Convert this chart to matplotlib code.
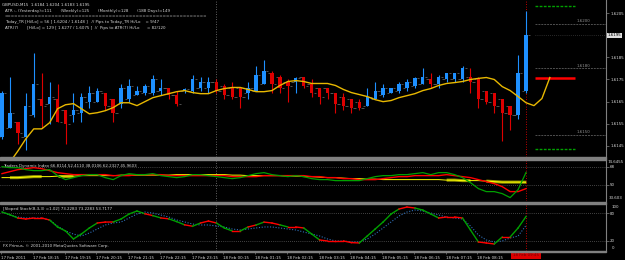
import matplotlib
matplotlib.use("Agg")
import matplotlib.pyplot as plt
import numpy as np

# ---- chart data ----
bar_open = [1.6149, 1.6153, 1.6156, 1.6149, 1.6159, 1.6166, 1.6164, 1.6166, 1.6161, 1.6159,
            1.6160, 1.6165, 1.6165, 1.6169, 1.6166, 1.6164, 1.6166, 1.6168, 1.6169, 1.6169,
            1.6170, 1.6171, 1.6168, 1.6170, 1.6170, 1.6171, 1.6171, 1.6174, 1.6172, 1.6171,
            1.6171, 1.6169, 1.6170, 1.6173, 1.6178, 1.6176, 1.6174, 1.6174, 1.6176, 1.6173,
            1.6171, 1.6171, 1.6169, 1.6167, 1.6166, 1.6165, 1.6163, 1.6166, 1.6168, 1.6169,
            1.6170, 1.6171, 1.6172, 1.6173, 1.6175, 1.6173, 1.6175, 1.6175, 1.6175, 1.6176,
            1.6175, 1.6170, 1.6169, 1.6166, 1.6163, 1.6159, 1.6170]
bar_high = [1.6170, 1.6176, 1.6156, 1.6169, 1.6187, 1.6178, 1.6174, 1.6173, 1.6161, 1.6169,
            1.6169, 1.6172, 1.6171, 1.6169, 1.6166, 1.6173, 1.6175, 1.6172, 1.6173, 1.6177,
            1.6175, 1.6171, 1.6170, 1.6171, 1.6177, 1.6176, 1.6176, 1.6175, 1.6173, 1.6174,
            1.6171, 1.6174, 1.6181, 1.6184, 1.6179, 1.6177, 1.6175, 1.6176, 1.6176, 1.6175,
            1.6171, 1.6171, 1.6169, 1.6169, 1.6166, 1.6166, 1.6171, 1.6174, 1.6173, 1.6171,
            1.6174, 1.6175, 1.6176, 1.6180, 1.6178, 1.6177, 1.6178, 1.6178, 1.6181, 1.6180,
            1.6176, 1.6170, 1.6169, 1.6166, 1.6163, 1.6186, 1.6206]
bar_low = [1.6148, 1.6153, 1.6146, 1.6143, 1.6158, 1.6153, 1.6155, 1.6156, 1.6146, 1.6156,
           1.6156, 1.6162, 1.6165, 1.6161, 1.6156, 1.6162, 1.6165, 1.6168, 1.6168, 1.6168,
           1.6168, 1.6166, 1.6163, 1.6169, 1.6169, 1.6170, 1.6169, 1.6169, 1.6166, 1.6166,
           1.6162, 1.6166, 1.6170, 1.6173, 1.6169, 1.6169, 1.6165, 1.6169, 1.6171, 1.6167,
           1.6164, 1.6166, 1.6160, 1.6161, 1.6160, 1.6161, 1.6163, 1.6166, 1.6167, 1.6169,
           1.6169, 1.6170, 1.6171, 1.6173, 1.6171, 1.6171, 1.6174, 1.6174, 1.6174, 1.6169,
           1.6162, 1.6164, 1.6160, 1.6147, 1.6152, 1.6157, 1.6169]
bar_close = [1.6169, 1.6160, 1.6151, 1.6163, 1.6173, 1.6163, 1.6167, 1.6156, 1.6155, 1.6161,
             1.6167, 1.6169, 1.6170, 1.6163, 1.6160, 1.6171, 1.6172, 1.6170, 1.6172, 1.6175,
             1.6171, 1.6168, 1.6164, 1.61705, 1.6175, 1.6174, 1.6174, 1.6170, 1.6168, 1.6167,
             1.6167, 1.6171, 1.6177, 1.6179, 1.6173, 1.6171, 1.6172, 1.61755, 1.6172, 1.6169,
             1.6167, 1.6169, 1.6164, 1.6163, 1.6162, 1.6162, 1.6167, 1.6170, 1.6171, 1.6171,
             1.6173, 1.6174, 1.61755, 1.6176, 1.6173, 1.6176, 1.6178, 1.6178, 1.6180, 1.6174,
             1.6166, 1.6165, 1.6163, 1.6160, 1.6159, 1.6178, 1.6195]

# shifted moving average, runs three bars past the last candle
ma_values = [1.61327, 1.61377, 1.61427, 1.61482, 1.61527, 1.61527, 1.61555, 1.61618, 1.61636, 1.61641,
             1.61618, 1.61595, 1.61600, 1.61609, 1.61623, 1.61645, 1.61645, 1.61632, 1.61650, 1.61668,
             1.61677, 1.61686, 1.61695, 1.61700, 1.61691, 1.61686, 1.61686, 1.61700, 1.61709, 1.61714,
             1.61714, 1.61705, 1.61695, 1.61695, 1.61700, 1.61723, 1.61741, 1.61745, 1.61741, 1.61732,
             1.61732, 1.61732, 1.61723, 1.61705, 1.61691, 1.61682, 1.61673, 1.61659, 1.61650, 1.61655,
             1.61668, 1.61677, 1.61686, 1.61700, 1.61709, 1.61723, 1.61732, 1.61736, 1.61741, 1.61750,
             1.61755, 1.61759, 1.61750, 1.61718, 1.61700, 1.61673, 1.61645, 1.61632, 1.61664, 1.61759]

level_green = [1.62084, 1.61436]
level_red = 1.61755
level_grey = [1.6200, 1.6180, 1.6150]
bid_price = 1.6195
price_ticks = [1.6205, 1.6185, 1.6175, 1.6165, 1.6155, 1.6145]

tdi_price = [68, 67, 67, 65, 64, 64, 65, 59, 55, 57, 59, 60, 60, 57, 55, 59, 61, 60, 60, 61,
             59, 58, 57, 58, 60, 60, 59, 58, 57, 56, 57, 59, 61, 62, 60, 59, 58, 59, 58, 56,
             55, 55, 54, 54, 54, 54, 56, 58, 59, 59, 60, 60, 61, 62, 60, 62, 62, 60, 57, 52,
             46, 43, 43, 41, 37, 45, 62.2]
tdi_signal = [61, 63, 65, 66, 67, 66, 64, 62, 61, 60, 60, 60, 60, 60, 59, 59, 59, 60, 60, 60,
              60, 59, 59, 59, 59, 59, 59, 59, 59, 58, 58, 58, 58, 59, 59, 59, 59, 59, 59, 58,
              58, 57, 57, 56, 56, 55, 55, 55, 56, 57, 58, 58, 59, 59, 59, 59, 60, 59, 58, 57,
              55, 53, 51, 48, 43, 43, 46]
tdi_base = [57, 57, 57, 57.5, 58, 58, 58, 58.5, 58.5, 58.5, 59, 59, 59, 59, 59, 59.5, 59.5, 59.5, 59.5, 59.5,
            59.5, 59.5, 60, 60, 60, 60, 60, 60, 60, 59.5, 59.5, 59, 59, 59, 59, 59, 58.5, 58.5, 58, 58,
            57.5, 57, 57, 56.5, 56, 56, 55.5, 55.5, 55, 55, 55, 55, 55, 55, 55, 55, 54.5, 54.5, 54, 54,
            54, 53.5, 53, 52.5, 52.5, 52.5, 52.4]
tdi_band_runs = [(1, 5), (7, 9), (56, 59), (61, 66)]

stoch_main = [82.8, 77, 69.8, 67.7, 69.8, 69.8, 65.5, 50.4, 41.7, 24.4, 35.2, 48.2, 59, 61, 61.2, 67.7, 78.5, 85, 79, 75,
              70, 68, 62, 55, 52, 59, 63.3, 59, 48.2, 41.7, 41.7, 50.4, 54.7, 61, 59, 55, 50.4, 50.4, 48.2, 35.2,
              22.2, 20, 20, 20, 16.5, 15.7, 30.8, 46, 61.2, 78.5, 89.3, 93.6, 91.5, 87, 78.5, 69.8, 72, 72, 69.8, 43.8,
              17.8, 15.7, 13.5, 28.7, 28.7, 48.2, 73.2]
stoch_signal = [82.8, 76.3, 72, 69.8, 69.8, 69.8, 65.5, 52.5, 41.7, 35, 30.8, 37.3, 46, 54.7, 59, 61.2, 69.8, 78.5, 82.8, 80.6,
                76.3, 72, 65.5, 61.2, 56.8, 54.7, 54.7, 52.5, 50.4, 46, 43.8, 46, 48.2, 50.4, 50.4, 48.2, 46, 43.8, 39.5, 35.2,
                30.8, 24.4, 20, 20, 17.8, 17.8, 24.4, 35.2, 48.2, 61.2, 74.2, 82.8, 87.1, 85, 80.6, 76.3, 72, 69.8, 67.7, 52.5,
                33, 22.2, 17.8, 20, 26.5, 30.8, 53.7]
stoch_flat = 4.5

time_labels = ["17 Feb 2011", "17 Feb 18:15", "17 Feb 19:15", "17 Feb 20:15", "17 Feb 21:15",
               "17 Feb 22:15", "17 Feb 23:15", "18 Feb 00:15", "18 Feb 01:15", "18 Feb 02:15",
               "18 Feb 03:15", "18 Feb 04:15", "18 Feb 05:15", "18 Feb 06:15", "18 Feb 07:15",
               "18 Feb 08:15"]
current_time_label = "18 Feb 09:45"
day_start_bar = 27

info_lines = [
    "GBPUSD,M15  1.6184 1.6204 1.6183 1.6195",
    "ATR :- (Yesterday)=111       (Weekly)=125       (Monthly)=128       (188 Days)=149",
    "=" * 60,
    "Today_TR [Hi/Lo] = 56 [ 1.6204 / 1.6148 ]   // Pips to Today_TR Hi/Lo    = 9/47",
    "ATR(7)       [Hi/Lo] = 129 [ 1.6277 / 1.6075 ]  //  Pips to ATR(7) Hi/Lo      = 82/120",
]

# ---- styling ----
W, H = 625, 260
BG = "#000000"
GRID = "#808080"
TXT = "#d8d8d8"
FS = 2.9
BULL = "#1e90ff"
BEAR = "#dd0000"
plt.rcParams["font.family"] = ["DejaVu Sans"]

n_bars = len(bar_open)
bar_x = np.arange(n_bars)
right_px = 606
xlim = (-2 / 7.94, (right_px - 2) / 7.94)


def frac_box(top_px, bottom_px):
    return [0, 1 - bottom_px / H, right_px / W, (bottom_px - top_px) / H]


fig = plt.figure(figsize=(W / 100, H / 100), dpi=100, facecolor=BG)
ax = fig.add_axes(frac_box(0, 157))
ax_tdi = fig.add_axes(frac_box(160, 201))
ax_sto = fig.add_axes(frac_box(204, 251))

for a in (ax, ax_tdi, ax_sto):
    a.set_facecolor(BG)
    a.set_xlim(*xlim)
    for side in ("top", "left", "bottom"):
        a.spines[side].set_visible(False)
    a.spines["right"].set_color(GRID)
    a.spines["right"].set_linewidth(0.8)
    a.yaxis.tick_right()
    a.tick_params(axis="y", colors=GRID, labelcolor=TXT, labelsize=FS, length=2, width=0.5, pad=1)
    a.tick_params(axis="x", bottom=False, labelbottom=False)
    a.axvline(day_start_bar, color=GRID, lw=0.6, ls=(0, (1, 2)))
    a.axvline(n_bars - 1, color="#ff0000", lw=0.6, ls=(0, (1, 2)))

# ---- main price panel ----
ax.set_ylim(1.61400, 1.62109)
o = np.array(bar_open)
c = np.array(bar_close)
colors = [BULL if cc >= oo else BEAR for oo, cc in zip(o, c)]
ax.vlines(bar_x, bar_low, bar_high, colors=colors, lw=0.8, zorder=3)
body_lo = np.minimum(o, c)
body_h = np.maximum(np.abs(c - o), 0.00003)
ax.bar(bar_x, body_h, bottom=body_lo, width=0.42, color=colors, zorder=3, linewidth=0)
ax.hlines(bar_open, bar_x - 0.55, bar_x - 0.25, colors="#707070", lw=0.5, zorder=2)
ax.hlines(bar_close, bar_x + 0.25, bar_x + 0.55, colors="#707070", lw=0.5, zorder=2)

ma_x = np.arange(len(ma_values))
ax.plot(ma_x, ma_values, color="#e8b800", lw=1.0, zorder=4)

lvl_start = 67.1
ax.hlines(level_green, lvl_start, 72.2, colors="#00a000", lw=1.0, ls=(0, (2, 1)), zorder=2)
ax.hlines(level_red, lvl_start, 72.2, colors="#ff0000", lw=1.8, zorder=2)
ax.hlines(level_grey, lvl_start, xlim[1], colors="#505050", lw=0.7, ls=(0, (2, 1)), zorder=1)
ax.hlines(bid_price, lvl_start, xlim[1], colors="#505050", lw=0.5, ls=(0, (1, 2)), zorder=1)
for lv in level_grey:
    ax.text(72.4, lv + 0.00004, f"{lv:.4f}", color="#909090", fontsize=FS, ha="left", va="bottom")

ax.set_yticks(price_ticks)
ax.set_yticklabels([f"{t:.4f}" for t in price_ticks])
ax.text(1.003, (bid_price - 1.61400) / (1.62109 - 1.61400), f"{bid_price:.4f}",
        transform=ax.transAxes, fontsize=FS, color="#000000", ha="left", va="center",
        bbox=dict(boxstyle="square,pad=0.15", fc="#e0e0e0", ec="none"), clip_on=False)

for k, line in enumerate(info_lines):
    x_px = 2 if k == 0 else 5
    fig.text(x_px / W, 1 - (5 + 5.8 * k) / H, line, color=TXT, fontsize=FS, va="center", ha="left")

# ---- Traders Dynamic Index ----
ax_tdi.set_ylim(33.6, 74.65)
for lv in (68, 50):
    ax_tdi.axhline(lv, color=GRID, lw=0.5, ls=(0, (1, 2)))
for a0, a1 in tdi_band_runs:
    ax_tdi.plot(bar_x[a0:a1 + 1], tdi_base[a0:a1 + 1], color="#9a9a00", lw=2.2, solid_capstyle="butt")
ax_tdi.plot(bar_x, tdi_base, color="#ffff00", lw=0.7)
ax_tdi.plot(bar_x, tdi_signal, color="#ff0000", lw=1.0)
ax_tdi.plot(bar_x, tdi_price, color="#00a000", lw=0.9)
ax_tdi.set_yticks([68, 50])
ax_tdi.set_yticklabels(["68", "50"])
ax_tdi.text(1.002, 0.95, "74.6455", transform=ax_tdi.transAxes, fontsize=FS, color=TXT, va="center")
ax_tdi.text(1.005, 0.08, "33.603", transform=ax_tdi.transAxes, fontsize=FS, color=TXT, va="center")
ax_tdi.text(0.005, 0.86, "Traders Dynamic Index 66.8114 52.4110 38.0106 62.2327 45.9603",
            transform=ax_tdi.transAxes, fontsize=FS, color=TXT, va="center")

# ---- Sloped stochastic ----
ax_sto.set_ylim(-1.7, 100.2)
for lv in (80, 20):
    ax_sto.axhline(lv, color=GRID, lw=0.5, ls=(0, (1, 2)))
ax_sto.plot(bar_x, stoch_signal, color="#2f6fb8", lw=0.8, ls=(0, (1, 1.5)))
for k in range(n_bars - 1):
    flat = abs(stoch_main[k + 1] - stoch_main[k]) < stoch_flat
    ax_sto.plot(bar_x[k:k + 2], stoch_main[k:k + 2], color="#ff0000" if flat else "#00a000", lw=1.0)
ax_sto.set_yticks([80, 20])
ax_sto.set_yticklabels(["80", "20"])
ax_sto.text(1.01, 0.93, "100", transform=ax_sto.transAxes, fontsize=FS, color=TXT, va="center")
ax_sto.text(1.01, 0.06, "0", transform=ax_sto.transAxes, fontsize=FS, color=TXT, va="center")
ax_sto.text(0.005, 0.9, "[Sloped Stoch(8,3,3) =1.02] 73.2283 73.2283 53.7177",
            transform=ax_sto.transAxes, fontsize=FS, color=TXT, va="center")
ax_sto.text(0.005, 0.1, "FX Primus, \u00a9 2001-2010 MetaQuotes Software Corp.",
            transform=ax_sto.transAxes, fontsize=FS, color=TXT, va="center")

tick_bars = np.arange(0, 4 * len(time_labels), 4) - 0.12
ax_sto.set_xticks(tick_bars)
ax_sto.set_xticklabels(time_labels)
ax_sto.tick_params(axis="x", bottom=True, labelbottom=True, colors=GRID, labelcolor=TXT,
                   labelsize=FS, length=2.5, width=0.5, pad=1)
for lab in ax_sto.get_xticklabels():
    lab.set_horizontalalignment("left")
ax_sto.text(n_bars - 1, -0.05, current_time_label, transform=ax_sto.get_xaxis_transform(),
            fontsize=FS, color="#700000", ha="center", va="top",
            bbox=dict(boxstyle="square,pad=0.5", fc="#dd0000", ec="none"), clip_on=False)

# panel separators and bottom border
for y0, h in ((157, 2.5), (201.5, 2.5), (251, 1.2)):
    fig.patches.append(plt.Rectangle((0, 1 - (y0 + h) / H), right_px / W, h / H,
                                     transform=fig.transFigure, color=GRID, zorder=5))

fig.savefig("out.png", dpi=100, facecolor=BG)
